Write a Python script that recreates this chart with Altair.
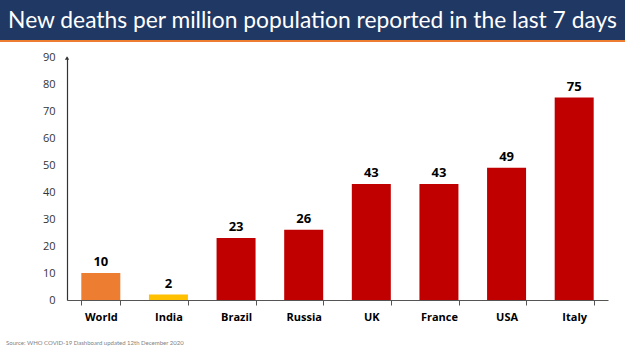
import altair as alt
import pandas as pd

countries = ["World", "India", "Brazil", "Russia", "UK", "France", "USA", "Italy"]
deaths = [10, 2, 23, 26, 43, 43, 49, 75]
colors = ["#ED7D31", "#FFC000", "#C00000", "#C00000", "#C00000", "#C00000", "#C00000", "#C00000"]
title_text = "New deaths per million population reported in the last 7 days"
source_text = "Source: WHO COVID-19 Dashboard updated 12th December 2020"

df = pd.DataFrame({"country": countries, "deaths": deaths, "color": colors})

W, H = 541, 243
PL, PT, PR, PB = 67, 57, 17, 51

x = alt.X("country:N", sort=countries, title=None,
          scale=alt.Scale(paddingInner=0.42, paddingOuter=0.21),
          axis=alt.Axis(labelAngle=0, labelFont="Open Sans", labelFontWeight="bold",
                        labelFontSize=11, labelColor="#000000", labelPadding=6,
                        domainColor="#555555", tickColor="#555555", tickSize=5,
                        tickBand="extent", tickExtra=True, domainWidth=1.2, grid=False))
y_axis = alt.Axis(values=list(range(0, 91, 10)), grid=False, ticks=False,
                  labelOverlap=False,
                  labelFont="Open Sans", labelFontSize=11, labelColor="#333333",
                  labelPadding=12, domainColor="#333333", domainWidth=1.2)
y_scale = alt.Scale(domain=[0, 90], nice=False)
y = alt.Y("deaths:Q", title=None, scale=y_scale, axis=y_axis)

bars = alt.Chart(df).mark_bar(size=39).encode(
    x=x, y=y, color=alt.Color("color:N", scale=None)
)
labels = alt.Chart(df).mark_text(dy=-11, font="Open Sans", fontWeight="bold",
                                 fontSize=13, color="#000000").encode(
    x=x, y=y, text="deaths:Q"
)

banner = alt.Chart(pd.DataFrame({"a": [0]})).mark_rect(color="#1F3864").encode(
    x=alt.value(-PL), x2=alt.value(W + PR), y=alt.value(-PT), y2=alt.value(-PT + 40)
)
orange = alt.Chart(pd.DataFrame({"a": [0]})).mark_rect(color="#ED7D31").encode(
    x=alt.value(-PL), x2=alt.value(W + PR), y=alt.value(-PT + 40), y2=alt.value(-PT + 42)
)
title = alt.Chart(pd.DataFrame({"t": [title_text]})).mark_text(
    font="Lato", fontSize=22.8, color="#FFFFFF", align="center", baseline="middle"
).encode(x=alt.value((W + PR - PL) / 2), y=alt.value(-PT + 21), text="t:N")
source = alt.Chart(pd.DataFrame({"t": [source_text]})).mark_text(
    font="Lato", fontSize=6, color="#7F7F7F", align="left", baseline="middle"
).encode(x=alt.value(-PL + 6), y=alt.value(H + 43), text="t:N")
arrow = alt.Chart(pd.DataFrame({"a": [0]})).mark_point(
    shape="triangle-up", size=18, filled=True, color="#333333", opacity=1, strokeWidth=0
).encode(x=alt.value(0), y=alt.value(1))

chart = alt.layer(bars, labels, banner, orange, title, source, arrow).properties(
    width=W, height=H,
    background="#FFFFFF",
    padding={"left": PL, "top": PT, "right": PR, "bottom": PB},
    autosize=alt.AutoSizeParams(type="none"),
).configure_view(strokeWidth=0, stroke="transparent").configure_axis(
    grid=False
)

chart.save("out.html", embed_options={"renderer": "svg", "actions": False})
